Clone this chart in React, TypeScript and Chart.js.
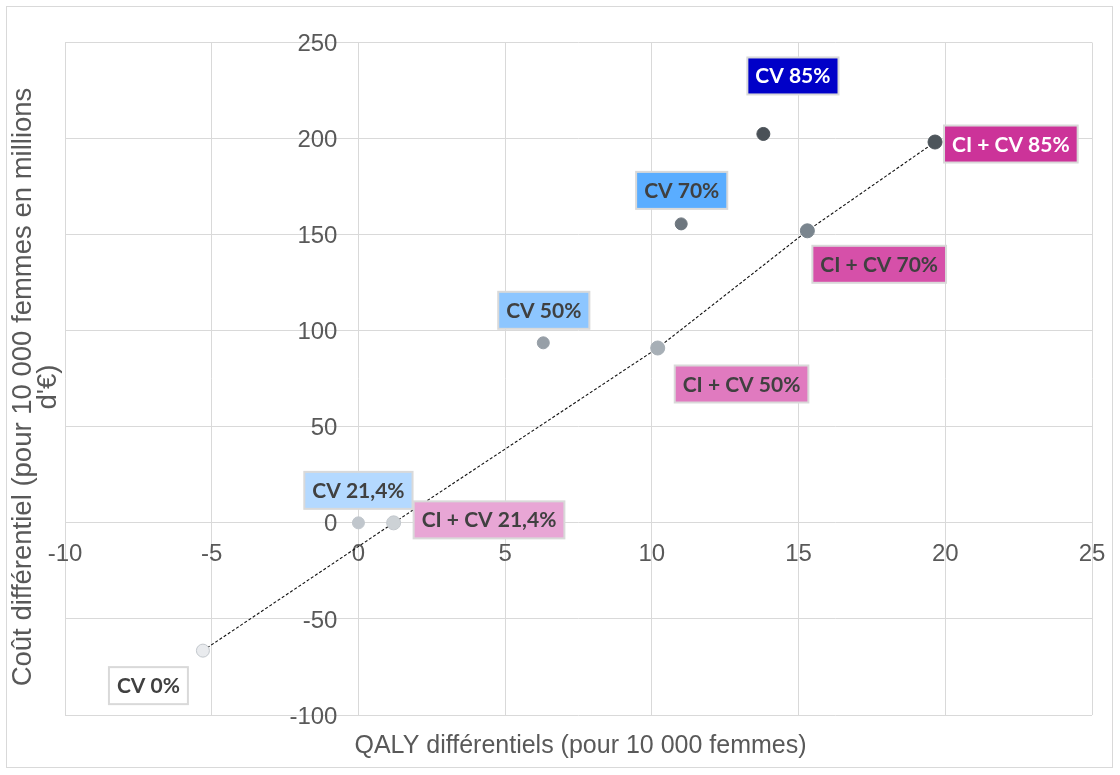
import React, { useEffect, useRef } from "react";
import { Chart, registerables } from "chart.js";

Chart.register(...registerables);

// ---------- data ----------
const POINT_NAMES = [
  "CV 0%",
  "CV 21,4%",
  "CI + CV 21,4%",
  "CV 50%",
  "CI + CV 50%",
  "CV 70%",
  "CI + CV 70%",
  "CV 85%",
  "CI + CV 85%",
];
const QALY_DIFF = [-5.3, 0, 1.2, 6.3, 10.2, 11.0, 15.3, 13.8, 19.65];
const COST_DIFF = [-66.5, 0, 0, 93.7, 91.0, 155.6, 152.0, 202.4, 198.2];
// points joined by the dotted line (efficiency frontier)
const FRONTIER_INDEX = [0, 2, 4, 6, 8];

const X_MIN = -10;
const X_MAX = 25;
const X_STEP = 5;
const Y_MIN = -100;
const Y_MAX = 250;
const Y_STEP = 50;

const X_TITLE = "QALY différentiels (pour 10 000 femmes)";
const Y_TITLE_LINES = ["Coût différentiel (pour 10 000 femmes en millions", "d'€)"];

// ---------- styles ----------
const POINT_FILL = ["#e9ebee", "#c0c6cc", "#cdd2d6", "#979fa7", "#a7afb6", "#6d767e", "#7a858e", "#4a5157", "#4d555b"];
const POINT_BORDER = ["#c3c8cd", "#c0c6cc", "#c4c9ce", "#979fa7", "#a7afb6", "#6d767e", "#7a858e", "#4a5157", "#4d555b"];
const POINT_RADIUS = [6.5, 6, 7, 6, 7, 6, 7, 6.5, 7];

const LABEL_FILL = ["#ffffff", "#b4d9ff", "#e8a6d5", "#8dc6ff", "#e07abf", "#5aadff", "#d650a9", "#0000c8", "#cc3399"];
const LABEL_TEXT = ["#404040", "#404040", "#404040", "#404040", "#404040", "#404040", "#404040", "#ffffff", "#ffffff"];
// label placement relative to its point (pixels): [dx, dy, horizontal anchor]
const LABEL_PLACE: [number, number, string][] = [
  [-15, 35, "right"],
  [0, -32.5, "center"],
  [20, -3, "left"],
  [0.5, -32.5, "center"],
  [17, 36, "left"],
  [0.5, -33.5, "center"],
  [5, 33.5, "left"],
  [-16, -58, "left"],
  [9, 2, "left"],
];

const TICK_FONT = "24px 'Liberation Sans', Arial, sans-serif";
const TITLE_FONT = "25px 'Liberation Sans', Arial, sans-serif";
const Y_TITLE_FONT = "27.5px 'Liberation Sans', Arial, sans-serif";
const LABEL_FONT = "bold 21px Lato, 'Open Sans', sans-serif";
const AXIS_TEXT = "#595959";

const decorPlugin = {
  id: "decor",
  beforeDraw(chart: any) {
    const ctx = chart.ctx;
    ctx.save();
    ctx.fillStyle = "#ffffff";
    ctx.fillRect(0, 0, chart.width, chart.height);
    ctx.strokeStyle = "#d9d9d9";
    ctx.lineWidth = 1;
    ctx.strokeRect(6.5, 6.5, 1106, 761);
    ctx.restore();
  },
  beforeDatasetsDraw(chart: any) {
    const ctx = chart.ctx;
    const xs = chart.scales.x;
    const ys = chart.scales.y;
    const x0 = xs.getPixelForValue(0);
    const y0 = ys.getPixelForValue(0);
    ctx.save();
    ctx.fillStyle = AXIS_TEXT;
    ctx.font = TICK_FONT;
    ctx.textAlign = "center";
    ctx.textBaseline = "alphabetic";
    xs.ticks.forEach((t: any) => {
      ctx.fillText(String(t.value), xs.getPixelForValue(t.value), y0 + 38.5);
    });
    ctx.textAlign = "right";
    ys.ticks.forEach((t: any) => {
      ctx.fillText(String(t.value), x0 - 21, ys.getPixelForValue(t.value) + 8.6);
    });
    // axis titles
    const area = chart.chartArea;
    ctx.font = TITLE_FONT;
    ctx.textAlign = "center";
    ctx.fillText(X_TITLE, (area.left + area.right) / 2 + 2, 753);
    ctx.save();
    ctx.font = Y_TITLE_FONT;
    ctx.translate(0, 387);
    ctx.rotate(-Math.PI / 2);
    ctx.fillText(Y_TITLE_LINES[0], 0, 31);
    ctx.fillText(Y_TITLE_LINES[1], 0, 56);
    ctx.restore();
    ctx.restore();
  },
  afterDatasetsDraw(chart: any) {
    const ctx = chart.ctx;
    const xs = chart.scales.x;
    const ys = chart.scales.y;
    ctx.save();
    ctx.font = LABEL_FONT;
    POINT_NAMES.forEach((name, i) => {
      const px = xs.getPixelForValue(QALY_DIFF[i]);
      const py = ys.getPixelForValue(COST_DIFF[i]);
      const [dx, dy, anchor] = LABEL_PLACE[i];
      const tw = ctx.measureText(name).width;
      const w = tw + 16;
      const h = 37;
      let left = px + dx;
      if (anchor === "center") left = px + dx - w / 2;
      if (anchor === "right") left = px + dx - w;
      const top = py + dy - h / 2;
      ctx.fillStyle = LABEL_FILL[i];
      ctx.fillRect(left, top, w, h);
      ctx.strokeStyle = "#d9d9d9";
      ctx.lineWidth = 2;
      ctx.strokeRect(left, top, w, h);
      ctx.fillStyle = LABEL_TEXT[i];
      ctx.textAlign = "center";
      ctx.textBaseline = "alphabetic";
      ctx.fillText(name, left + w / 2, top + h / 2 + 7.5);
    });
    ctx.restore();
  },
};

export default function App() {
  const canvasRef = useRef<HTMLCanvasElement | null>(null);

  useEffect(() => {
    document.body.style.margin = "0";
    const canvas = canvasRef.current;
    if (!canvas) return;

    const points = POINT_NAMES.map((_, i) => ({ x: QALY_DIFF[i], y: COST_DIFF[i] }));
    const frontier = FRONTIER_INDEX.map((i) => ({ x: QALY_DIFF[i], y: COST_DIFF[i] }));

    const chart = new Chart(canvas, {
      type: "scatter",
      data: {
        datasets: [
          {
            label: "Stratégies",
            data: points,
            backgroundColor: POINT_FILL,
            borderColor: POINT_BORDER,
            borderWidth: 1,
            pointRadius: POINT_RADIUS,
            pointHoverRadius: POINT_RADIUS,
            order: 0,
          },
          {
            label: "Frontière",
            data: frontier,
            showLine: true,
            borderColor: "#111111",
            borderWidth: 1.1,
            borderDash: [3, 2],
            pointRadius: 0,
            fill: false,
            order: 1,
          },
        ],
      },
      options: {
        responsive: false,
        animation: false,
        devicePixelRatio: 1,
        layout: { padding: { left: 65, top: 42.5, right: 28, bottom: 60 } },
        plugins: {
          legend: { display: false },
          tooltip: { enabled: false },
          title: { display: false },
        },
        scales: {
          x: {
            type: "linear",
            min: X_MIN,
            max: X_MAX,
            ticks: { stepSize: X_STEP, display: false },
            grid: { color: "#d9d9d9", lineWidth: 1, drawTicks: false },
            border: { display: false },
          },
          y: {
            type: "linear",
            min: Y_MIN,
            max: Y_MAX,
            ticks: { stepSize: Y_STEP, display: false },
            grid: { color: "#d9d9d9", lineWidth: 1, drawTicks: false },
            border: { display: false },
          },
        },
      },
      plugins: [decorPlugin],
    });

    return () => chart.destroy();
  }, []);

  return (
    <div style={{ width: 1120, height: 775, overflow: "hidden" }}>
      <canvas ref={canvasRef} width={1120} height={775} style={{ display: "block" }} />
    </div>
  );
}
